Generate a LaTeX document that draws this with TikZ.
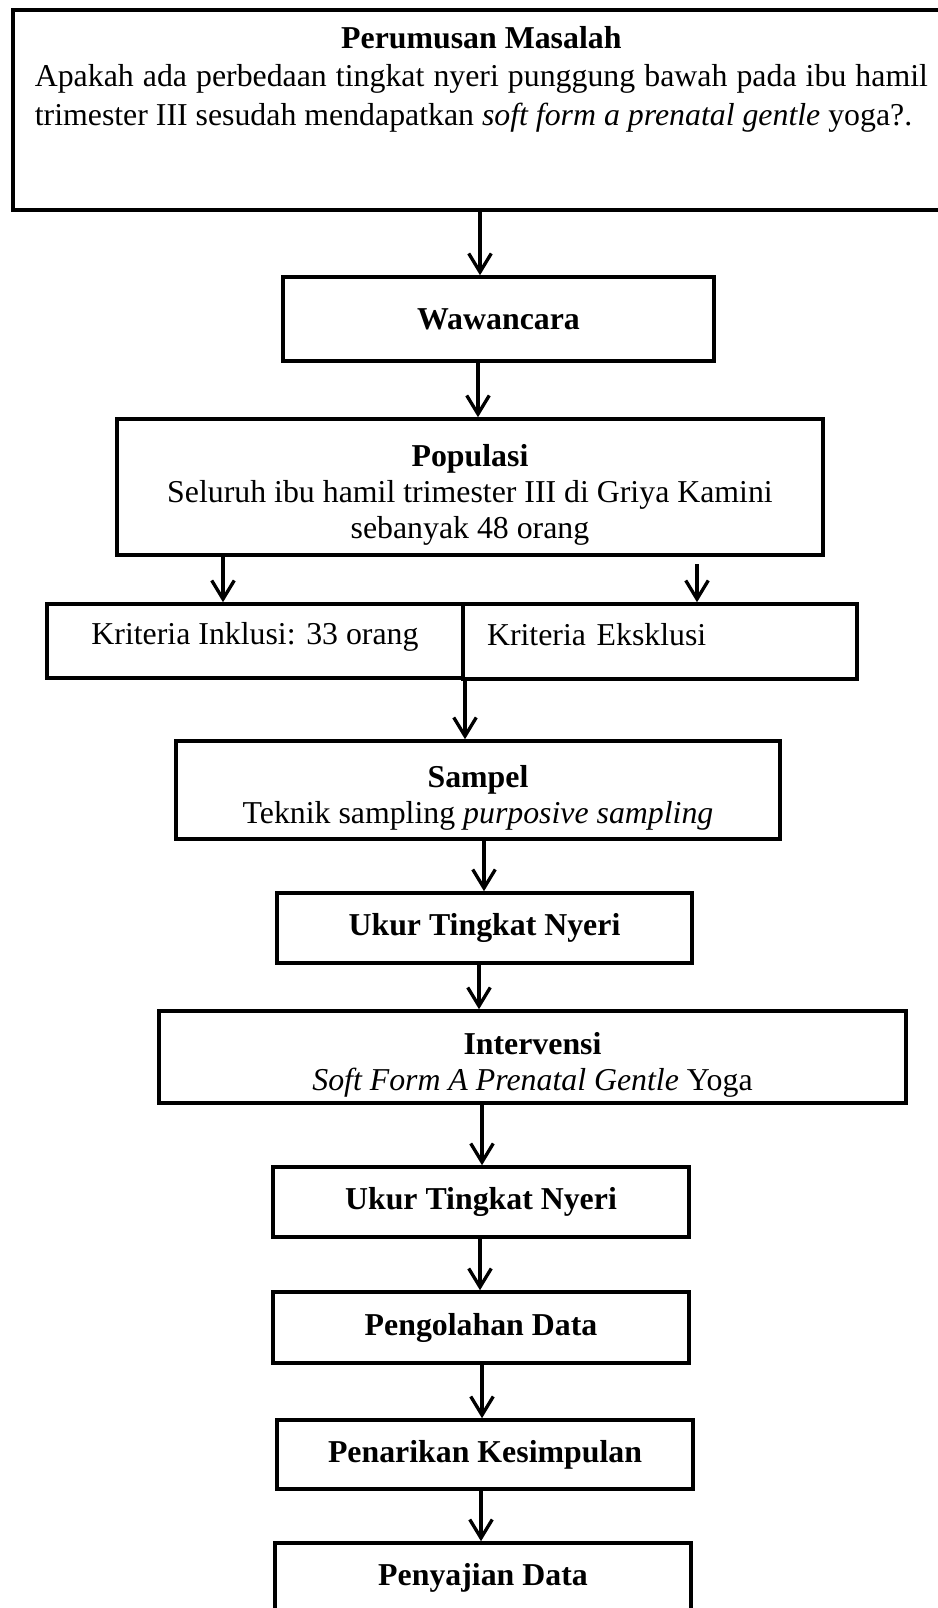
\documentclass[tikz,border=0pt]{standalone}
\usepackage{fontspec}
\setmainfont{Liberation Serif}
\usepackage{tikz}
\usetikzlibrary{arrows.meta}
\newcommand{\pxu}{0.377pt}
\newcommand{\toppad}{\rule{0pt}{14pt}}

\begin{document}
\begin{tikzpicture}[x=\pxu, y=-\pxu,
  font=\fontsize{12}{13.6}\selectfont,
  >={Straight Barb[length=7pt,width=8.5pt]},
  flowbox/.style={draw, rectangle, line width=1.35pt, inner sep=0pt, align=center},
  sz/.style 2 args={minimum width=#1*\pxu, minimum height=#2*\pxu},
  kriteria/.style={text height=8pt, text depth=5pt},
  flowline/.style={->, line width=1.25pt}]
\useasboundingbox (0,0) rectangle (938,1608);
\clip (0,0) rectangle (938,1608);

\node[flowbox, anchor=north west, inner xsep=8.3pt, text width=336.7pt, align=justify,
  text height=14.7pt, text depth=60.7pt, font=\fontsize{12}{14.4}\selectfont] (masalah) at (11,8)
  {{\centering\bfseries Perumusan Masalah\par}Apakah ada perbedaan tingkat nyeri punggung bawah pada ibu hamil trimester III sesudah mendapatkan \textit{soft form a prenatal gentle} yoga?.};
\node[flowbox, sz={431}{84}] (wawancara) at (498.5,319) {\textbf{Wawancara}};
\node[flowbox, sz={706}{136}] (populasi) at (470,487) {\toppad\textbf{Populasi}\\Seluruh ibu hamil trimester III di Griya Kamini\\sebanyak 48 orang};
\node[flowbox, kriteria, sz={416}{74}] (inklusi) at (255,641) {Kriteria Inklusi: 33 orang};
\node[flowbox, kriteria, inner xsep=9pt, text width=130.4pt, align=left, minimum height=75*\pxu] (eksklusi) at (660,641.5) {Kriteria Eksklusi};
\node[flowbox, sz={604}{98}] (sampel) at (478,790) {\toppad\textbf{Sampel}\\Teknik sampling \textit{purposive sampling}};
\node[flowbox, sz={415}{70}] (ukur1) at (484.5,928) {\textbf{Ukur Tingkat Nyeri}};
\node[flowbox, sz={747}{92}] (intervensi) at (532.5,1057) {\toppad\textbf{Intervensi}\\\textit{Soft Form A Prenatal Gentle} Yoga};
\node[flowbox, sz={416}{70}] (ukur2) at (481,1202) {\textbf{Ukur Tingkat Nyeri}};
\node[flowbox, sz={416}{71}] (olah) at (481,1327.5) {\textbf{Pengolahan Data}};
\node[flowbox, sz={416}{69}] (simpulan) at (485,1454.5) {\textbf{Penarikan Kesimpulan}};
\node[flowbox, sz={416}{70}] (sajian) at (483,1578) {\textbf{Penyajian Data}};

% x positions of the connectors
\foreach \n/\x in {a/480, b/478, c/223, d/465, e/484, f/479, g/482, h/480, i/482, j/481}
  \coordinate (x\n) at (\x,0);
\coordinate (ekstop) at (697,564);

\draw[flowline] (masalah.south -| xa) -- (wawancara.north -| xa);
\draw[flowline] (wawancara.south -| xb) -- (populasi.north -| xb);
\draw[flowline] (populasi.south -| xc) -- (inklusi.north -| xc);
\draw[flowline] (ekstop) -- (eksklusi.north -| ekstop);
\draw[flowline] (inklusi.south -| xd) -- (sampel.north -| xd);
\draw[flowline] (sampel.south -| xe) -- (ukur1.north -| xe);
\draw[flowline] (ukur1.south -| xf) -- (intervensi.north -| xf);
\draw[flowline] (intervensi.south -| xg) -- (ukur2.north -| xg);
\draw[flowline] (ukur2.south -| xh) -- (olah.north -| xh);
\draw[flowline] (olah.south -| xi) -- (simpulan.north -| xi);
\draw[flowline] (simpulan.south -| xj) -- (sajian.north -| xj);
\end{tikzpicture}
\end{document}
